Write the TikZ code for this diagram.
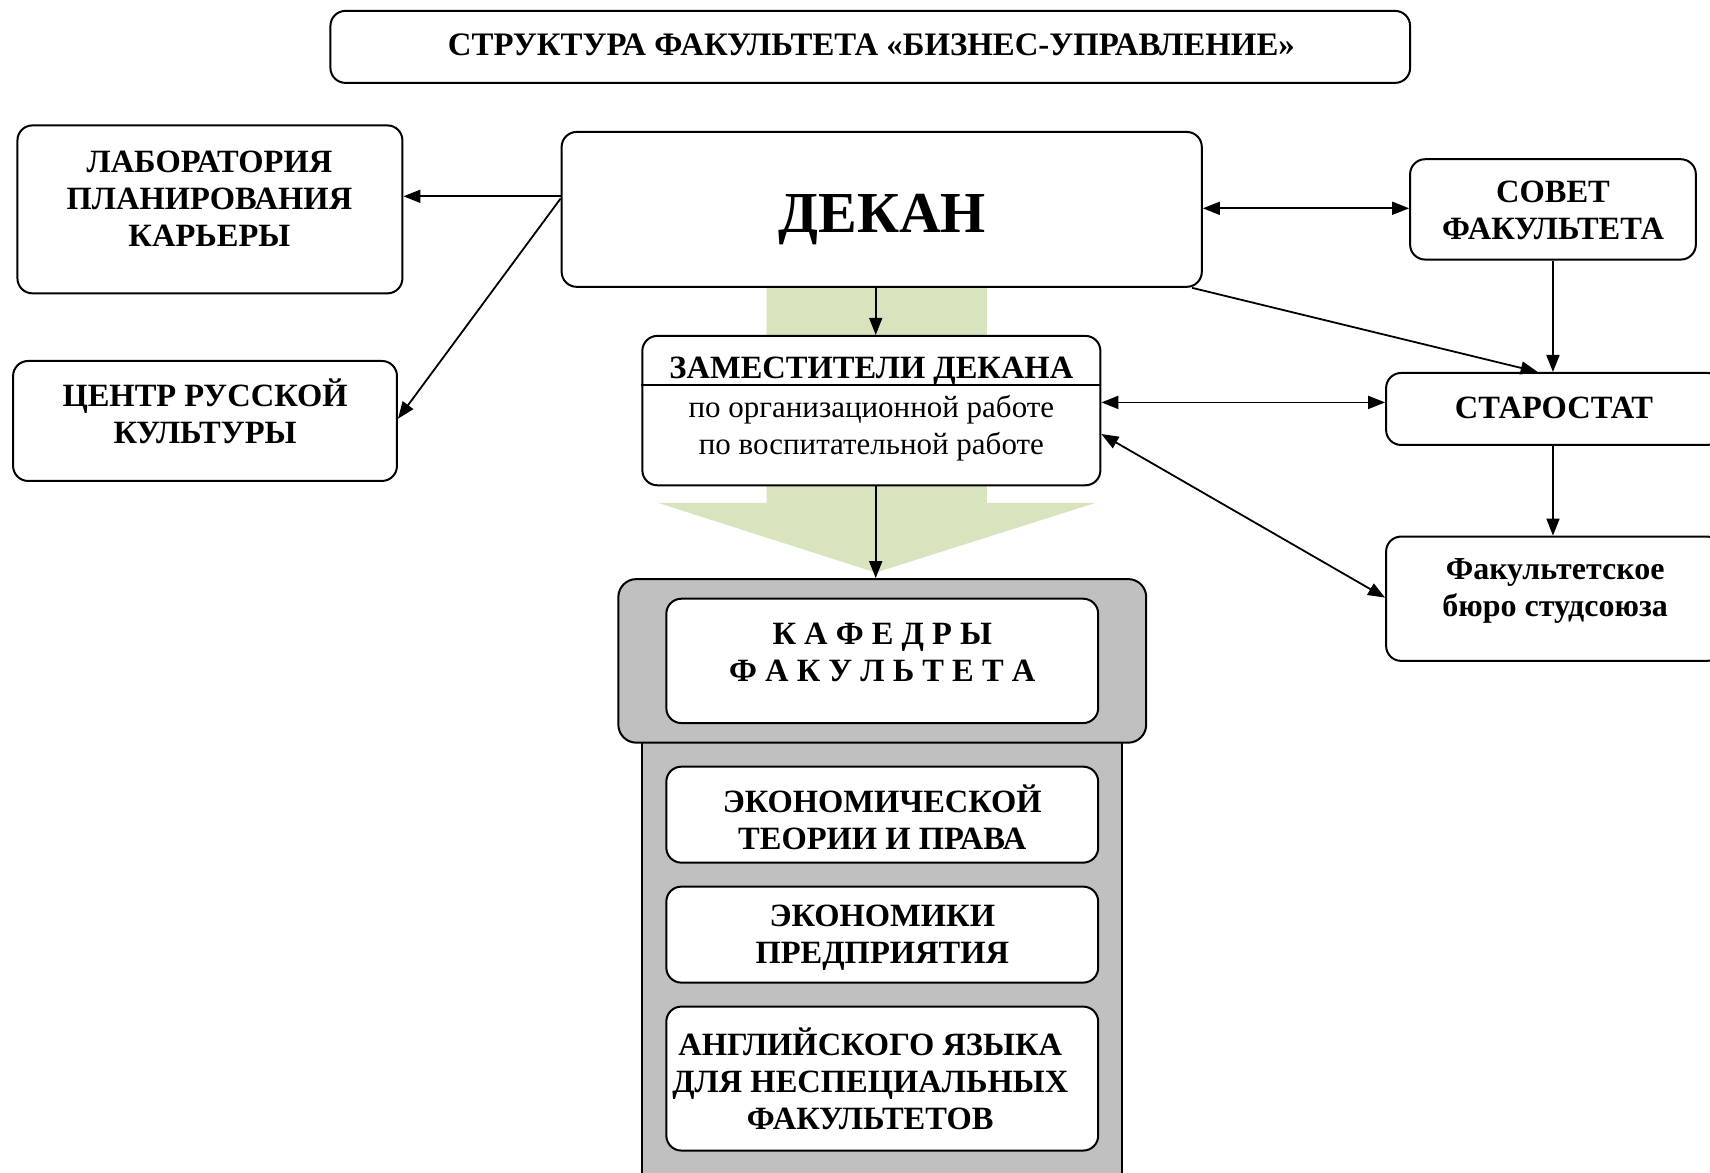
\documentclass[tikz,border=0pt]{standalone}
\usepackage{fontspec}
\setmainfont{Liberation Serif}
\usetikzlibrary{arrows.meta}
\definecolor{greenarrow}{RGB}{215,228,189}
\definecolor{grayfill}{RGB}{192,192,192}
\newcommand\mkbox[6]{%
  \node[#6, minimum width={(#4-#2)*1.0906pt}, minimum height={(#5-#3)*1.0906pt}]
    (#1) at ({(#2+#4)/2},{(#3+#5)/2}) {};}
\begin{document}
\begin{tikzpicture}[x=1.0906pt,y=-1.0906pt,
  box/.style={draw, line width=2pt, rounded corners=15pt, fill=white, inner sep=0pt},
  gbox/.style={draw, line width=2pt, rounded corners=18pt, fill=grayfill, inner sep=0pt},
  rbox/.style={draw, line width=2pt, fill=grayfill, inner sep=0pt},
  txt/.style={align=center, inner sep=0pt, font=\fontsize{32.5}{37}\selectfont\bfseries},
  ntxt/.style={align=center, inner sep=0pt, font=\fontsize{31}{37}\selectfont},
  tip/.style={Triangle[length=17pt,width=13pt]},
  arr/.style={line width=1.8pt, -{Triangle[length=17pt,width=13pt]}},
  darr/.style={line width=1.8pt, {Triangle[length=17pt,width=13pt]}-{Triangle[length=17pt,width=13pt]}}]
\useasboundingbox (0,0) rectangle (1568,1075);
% green big arrow
\fill[greenarrow] (703,250) -- (905,250) -- (905,461) -- (1005,461) -- (803,525)
  -- (603,461) -- (703,461) -- cycle;
% title
\mkbox{title}{303}{10}{1293}{76}{box}
\node[txt, font=\fontsize{32.8}{37}\selectfont\bfseries] (titlet) at (799,41) {СТРУКТУРА ФАКУЛЬТЕТА «БИЗНЕС-УПРАВЛЕНИЕ»};
% boxes
\mkbox{lab}{16}{115}{369}{269}{box}
\node[txt] (labt) at (192,182) {ЛАБОРАТОРИЯ\\ПЛАНИРОВАНИЯ\\КАРЬЕРЫ};
\mkbox{centr}{12}{331}{364}{441}{box}
\node[txt] (centrt) at (188,377) {ЦЕНТР РУССКОЙ\\КУЛЬТУРЫ};
\mkbox{dekan}{515}{121}{1102}{263}{box}
\node[txt, font=\fontsize{58}{60}\selectfont\bfseries] (dekant) at (809,201) {ДЕКАН};
\mkbox{sovet}{1293}{146}{1555}{238}{box}
\node[txt] (sovett) at (1424,193) {СОВЕТ\\ФАКУЛЬТЕТА};
\mkbox{zam}{589}{308}{1009}{445}{box}
\draw[line width=2pt] (zam.west |- 0,353) -- (zam.east |- 0,353);
\node[txt] (zamt) at (799,340) {ЗАМЕСТИТЕЛИ ДЕКАНА};
\node[ntxt] (zams) at (799,393) {по организационной работе\\по воспитательной работе};
\mkbox{staro}{1271}{342}{1579}{408}{box}
\node[txt] (starot) at (1425,374) {СТАРОСТАТ};
\mkbox{buro}{1271}{492}{1579}{606}{box}
\node[txt, font=\fontsize{32}{37}\selectfont\bfseries] (burot) at (1426,542) {Факультетское\\бюро студсоюза};
% departments
\mkbox{kaflow}{589}{660}{1029}{1090}{rbox}
\mkbox{kaf}{567}{531}{1051}{681}{gbox}
\mkbox{kafin}{611}{549}{1007}{663}{box}
\node[txt] (kafint) at (809,598) {К А Ф Е Д Р Ы\\Ф А К У Л Ь Т Е Т А};
\mkbox{d1}{611}{703}{1007}{791}{box}
\node[txt] (d1t) at (809,749) {ЭКОНОМИЧЕСКОЙ\\ТЕОРИИ И ПРАВА};
\mkbox{d2}{611}{813}{1007}{901}{box}
\node[txt] (d2t) at (809,860) {ЭКОНОМИКИ\\ПРЕДПРИЯТИЯ};
\mkbox{d3}{611}{923}{1007}{1055}{box}
\node[txt] (d3t) at (798,989) {АНГЛИЙСКОГО ЯЗЫКА\\ДЛЯ НЕСПЕЦИАЛЬНЫХ\\ФАКУЛЬТЕТОВ};
% connectors
\draw[arr] (dekan.west |- 0,180) -- (lab.east |- 0,180);
\draw[arr] (dekan.west |- 0,182) -- (centr.east |- 0,384);
\draw[darr] (dekan.east |- 0,191) -- (sovet.west |- 0,191);
\draw[arr] (dekan.south -| 1093,0) -- (staro.north -| 1410,0);
\draw[arr] (sovet.south) -- (staro.north -| sovet.south);
\draw[darr] (zam.east |- 0,369) -- (staro.west |- 0,369);
\draw[arr] (staro.south -| sovet.south) -- (buro.north -| sovet.south);
\draw[darr] (zam.east |- 0,398) -- (buro.west |- 0,548);
\draw[arr] (dekan.south -| 803,0) -- (zam.north -| 803,0);
\draw[arr] (zam.south -| 803,0) -- (kaf.north -| 803,0);
\end{tikzpicture}
\end{document}
